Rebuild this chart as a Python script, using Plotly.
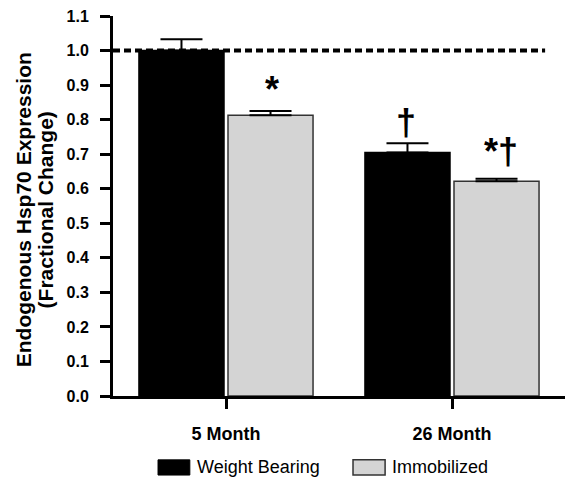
import plotly.graph_objects as go

# Data
categories = ["5 Month", "26 Month"]
weight_bearing = [1.0, 0.705]
weight_bearing_err = [0.033, 0.027]
immobilized = [0.813, 0.622]
immobilized_err = [0.012, 0.007]
y_ticks = [0.0, 0.1, 0.2, 0.3, 0.4, 0.5, 0.6, 0.7, 0.8, 0.9, 1.0, 1.1]
reference_level = 1.0

FONT = "Arial, Liberation Sans, sans-serif"

fig = go.Figure()

fig.add_trace(go.Bar(
    x=categories, y=weight_bearing, name="Weight Bearing",
    marker=dict(color="black", line=dict(color="black", width=1.5)),
    error_y=dict(type="data", array=weight_bearing_err, symmetric=False,
                 arrayminus=[0, 0], color="black", thickness=2, width=21),
))
fig.add_trace(go.Bar(
    x=categories, y=immobilized, name="Immobilized",
    marker=dict(color="#d4d4d4", line=dict(color="#333333", width=1.5)),
    error_y=dict(type="data", array=immobilized_err, symmetric=False,
                 arrayminus=[0, 0], color="black", thickness=2, width=21),
))

# Dotted reference line at the control level
fig.add_shape(type="line", xref="paper", yref="y", x0=0, x1=0.956,
              y0=reference_level, y1=reference_level,
              line=dict(color="black", width=4, dash="7px,4px"), layer="above")

# Significance markers
sig_font = dict(family=FONT, size=36, color="black")
fig.add_annotation(x=categories[0], y=immobilized[0] + immobilized_err[0],
                   xref="x", yref="y", text="<b>*</b>", showarrow=False,
                   xshift=46, yanchor="bottom", yshift=-1, font=sig_font)
fig.add_annotation(x=categories[1], y=weight_bearing[1] + weight_bearing_err[1],
                   xref="x", yref="y", text="<b>†</b>", showarrow=False,
                   xshift=-46, yanchor="bottom", yshift=-2, font=sig_font)
fig.add_annotation(x=categories[1], y=immobilized[1] + immobilized_err[1],
                   xref="x", yref="y", text="<b>*†</b>", showarrow=False,
                   xshift=49, yanchor="bottom", yshift=5, font=sig_font)

# Y-axis title, two lines
title_font = dict(family=FONT, size=21, color="black")
fig.add_annotation(x=-0.199, y=0.489, xref="paper", yref="paper",
                   text="<b>Endogenous Hsp70 Expression</b>", textangle=-90,
                   showarrow=False, xanchor="center", yanchor="middle",
                   font=title_font)
fig.add_annotation(x=-0.150, y=0.489, xref="paper", yref="paper",
                   text="<b>(Fractional Change)</b>", textangle=-90,
                   showarrow=False, xanchor="center", yanchor="middle",
                   font=title_font)

# Legend
leg_font = dict(family=FONT, size=18, color="black")
fig.add_shape(type="rect", xref="paper", yref="paper", x0=0.0996, x1=0.170,
              y0=-0.208, y1=-0.168, fillcolor="black",
              line=dict(color="black", width=1))
fig.add_annotation(x=0.181, y=-0.188, xref="paper", yref="paper",
                   text="Weight Bearing", showarrow=False, xanchor="left",
                   yanchor="middle", font=leg_font)
fig.add_shape(type="rect", xref="paper", yref="paper", x0=0.531, x1=0.602,
              y0=-0.208, y1=-0.168, fillcolor="#d4d4d4",
              line=dict(color="#333333", width=1.5))
fig.add_annotation(x=0.613, y=-0.188, xref="paper", yref="paper",
                   text="Immobilized", showarrow=False, xanchor="left",
                   yanchor="middle", font=leg_font)

fig.update_layout(
    width=565, height=479,
    margin=dict(l=113, r=0, t=16, b=83),
    paper_bgcolor="white", plot_bgcolor="white",
    barmode="group", bargap=0.212, bargroupgap=0.045,
    showlegend=False,
    font=dict(family=FONT, color="black"),
)
fig.update_xaxes(
    type="category", range=[-0.5, 1.5],
    showline=True, linecolor="black", linewidth=3,
    ticks="outside", ticklen=10, tickwidth=3, tickcolor="black",
    tickfont=dict(family=FONT, size=18, color="black"),
    tickvals=categories, ticktext=[f"<b>{c}</b>" for c in categories],
    ticklabelstandoff=9,
    showgrid=False, zeroline=False,
)
fig.update_yaxes(
    range=[0, 1.1], showline=True, linecolor="black", linewidth=3,
    ticks="outside", ticklen=10, tickwidth=3, tickcolor="black",
    tickvals=y_ticks, ticktext=[f"<b>{v:.1f}</b>" for v in y_ticks],
    tickfont=dict(family=FONT, size=16, color="black"),
    ticklabelstandoff=8,
    showgrid=False, zeroline=False,
)

fig.write_html("out.html")
